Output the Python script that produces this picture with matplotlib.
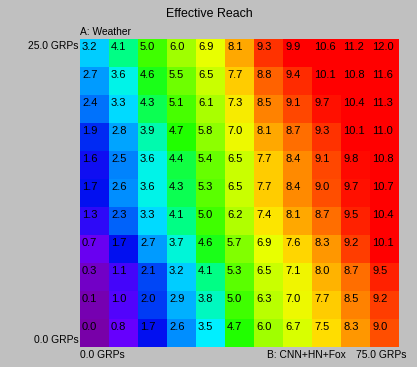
import matplotlib
matplotlib.use("Agg")
import matplotlib.pyplot as plt
import numpy as np
from matplotlib.colors import LinearSegmentedColormap, Normalize

title = "Effective Reach"
y_axis_name = "A: Weather"
x_axis_name = "B: CNN+HN+Fox"
y_top_label = "25.0 GRPs"
y_bottom_label = "0.0 GRPs"
x_left_label = "0.0 GRPs"
x_right_label = "75.0 GRPs"

# rows from top (A = 25 GRPs) to bottom (A = 0 GRPs); columns B from 0 to 75 GRPs
row0 = [3.2, 4.1, 5.0, 6.0, 6.9, 8.1, 9.3, 9.9, 10.6, 11.2, 12.0]
row1 = [2.7, 3.6, 4.6, 5.5, 6.5, 7.7, 8.8, 9.4, 10.1, 10.8, 11.6]
row2 = [2.4, 3.3, 4.3, 5.1, 6.1, 7.3, 8.5, 9.1, 9.7, 10.4, 11.3]
row3 = [1.9, 2.8, 3.9, 4.7, 5.8, 7.0, 8.1, 8.7, 9.3, 10.1, 11.0]
row4 = [1.6, 2.5, 3.6, 4.4, 5.4, 6.5, 7.7, 8.4, 9.1, 9.8, 10.8]
row5 = [1.7, 2.6, 3.6, 4.3, 5.3, 6.5, 7.7, 8.4, 9.0, 9.7, 10.7]
row6 = [1.3, 2.3, 3.3, 4.1, 5.0, 6.2, 7.4, 8.1, 8.7, 9.5, 10.4]
row7 = [0.7, 1.7, 2.7, 3.7, 4.6, 5.7, 6.9, 7.6, 8.3, 9.2, 10.1]
row8 = [0.3, 1.1, 2.1, 3.2, 4.1, 5.3, 6.5, 7.1, 8.0, 8.7, 9.5]
row9 = [0.1, 1.0, 2.0, 2.9, 3.8, 5.0, 6.3, 7.0, 7.7, 8.5, 9.2]
row10 = [0.0, 0.8, 1.7, 2.6, 3.5, 4.7, 6.0, 6.7, 7.5, 8.3, 9.0]

values = np.array([row0, row1, row2, row3, row4, row5, row6, row7, row8, row9, row10])

anchors = [
    (0.0, "#7800a8"), (0.8, "#6600ff"), (1.7, "#0010f0"), (2.6, "#0090ff"),
    (3.5, "#00f0ff"), (4.1, "#00ff80"), (4.7, "#20ff00"), (6.0, "#a0ff00"),
    (6.9, "#e8ff00"), (7.5, "#ffe000"), (8.3, "#ff9800"), (9.0, "#ff5000"),
    (9.9, "#ff0000"), (10.0, "#ff0000"),
]
vmax = 10.0
cmap = LinearSegmentedColormap.from_list("reach", [(v / vmax, c) for v, c in anchors])
norm = Normalize(vmin=0, vmax=vmax, clip=True)

W, H = 417, 367
bg = "#c0c0c0"
plt.rcParams["font.family"] = ["Liberation Sans", "DejaVu Sans"]
fig = plt.figure(figsize=(W / 100, H / 100), dpi=100, facecolor=bg)

L, R, T, B = 80, 399, 39, 347
ax = fig.add_axes([L / W, 1 - B / H, (R - L) / W, (B - T) / H])
nr, nc = values.shape
ax.pcolormesh(np.arange(nc + 1), np.arange(nr + 1), values, cmap=cmap, norm=norm,
              shading="flat")
ax.set_xlim(0, nc)
ax.set_ylim(nr, 0)
ax.axis("off")

for i in range(nr):
    for j in range(nc):
        ax.text(j + 0.07, i + 0.3, f"{values[i, j]:.1f}", ha="left", va="center",
                fontsize=8, color="black")

def ftext(x, y, s, ha="left", size=7.4):
    fig.text(x / W, 1 - y / H, s, ha=ha, va="center", fontsize=size, color="black")

ftext(209, 14, title, ha="center", size=8.9)
ftext(80, 32, y_axis_name)
ftext(79, 46, y_top_label, ha="right")
ftext(79, 340, y_bottom_label, ha="right")
ftext(80, 355, x_left_label)
ftext(346, 355, x_axis_name, ha="right")
ftext(407, 355, x_right_label, ha="right")

fig.savefig("out.png", dpi=100, facecolor=bg)
